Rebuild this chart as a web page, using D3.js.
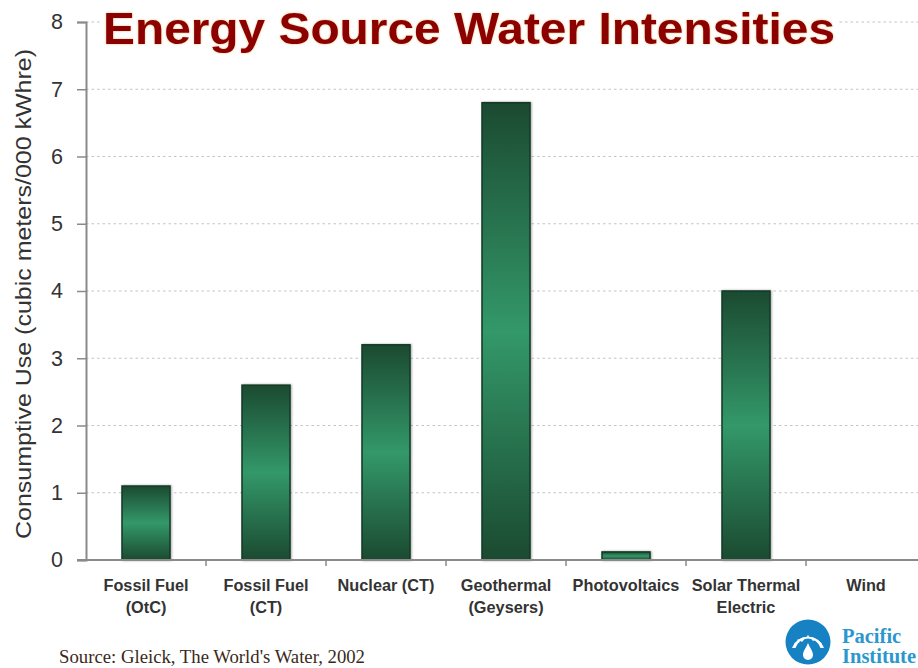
<!DOCTYPE html>
<html><head><meta charset="utf-8">
<script src="https://cdn.jsdelivr.net/npm/d3@7"></script>
<style>html,body{margin:0;padding:0;background:#fff;overflow:hidden}</style>
</head><body>
<svg id="c" width="918" height="668"></svg>
<script>
const categories = [["Fossil Fuel","(OtC)"],["Fossil Fuel","(CT)"],["Nuclear (CT)"],["Geothermal","(Geysers)"],["Photovoltaics"],["Solar Thermal","Electric"],["Wind"]];
const values = [1.1, 2.6, 3.2, 6.8, 0.12, 4.0, 0];
const yTicks = [0,1,2,3,4,5,6,7,8];
const titleText = "Energy Source Water Intensities";
const yLabel = "Consumptive Use (cubic meters/000 kWhre)";
const sourceText = "Source: Gleick, The World's Water, 2002";

(function(){
const svg = d3.select("#c");
const mL = 86, mR = 926, mT = 22, mB = 560;
const keys = categories.map((c,i)=>i);
const x = d3.scaleBand().domain(keys).range([mL,mR]).paddingInner(0.6).paddingOuter(0.3);
const y = d3.scaleLinear().domain([0,8]).range([mB,mT]);

const defs = svg.append("defs");
const g = defs.append("linearGradient").attr("id","barg").attr("x1",0).attr("y1",0).attr("x2",0).attr("y2",1);
g.append("stop").attr("offset","0%").attr("stop-color","#1b4a31");
g.append("stop").attr("offset","50%").attr("stop-color","#33986a");
g.append("stop").attr("offset","100%").attr("stop-color","#1b4a31");

// grid
svg.append("g").selectAll("line").data(yTicks.filter(d=>d>0)).join("line")
  .attr("x1",mL).attr("x2",918).attr("y1",d=>y(d)).attr("y2",d=>y(d))
  .attr("stroke","#c4c4c4").attr("stroke-width",1.2).attr("stroke-dasharray","2.5,3");

// bars
svg.append("g").selectAll("rect").data(values.map((v,i)=>({v,i})).filter(d=>d.v>0)).join("rect")
  .attr("x",d=>x(d.i)).attr("width",x.bandwidth())
  .attr("y",d=>y(d.v)).attr("height",d=>y(0)-y(d.v))
  .attr("fill","url(#barg)").attr("stroke","#123a24").attr("stroke-width",1.5)
  .style("filter","drop-shadow(1px 0px 1px rgba(0,0,0,0.35))");

// y axis
const ya = svg.append("g").attr("transform",`translate(${mL},0)`)
  .call(d3.axisLeft(y).tickValues(yTicks).tickSize(9).tickPadding(14).tickFormat(d3.format("d")));
ya.select(".domain").attr("stroke","#8a8a8a").attr("stroke-width",2);
ya.selectAll(".tick line").attr("stroke","#8a8a8a").attr("stroke-width",1.5);
ya.selectAll("text").attr("font-family","Arial, Liberation Sans, sans-serif").attr("font-size",21.5).attr("fill","#333");

// x axis
const xa = svg.append("g").attr("transform",`translate(0,${mB})`);
xa.append("line").attr("x1",mL-9).attr("x2",918).attr("y1",0).attr("y2",0).attr("stroke","#8a8a8a").attr("stroke-width",2);
const step = x.step();
xa.selectAll("line.t").data(keys.slice(1)).join("line").attr("class","t")
  .attr("x1",d=>x(d)-x.paddingInner()*step/2).attr("x2",d=>x(d)-x.paddingInner()*step/2)
  .attr("y1",0).attr("y2",6).attr("stroke","#8a8a8a").attr("stroke-width",1.5);
const lbl = xa.selectAll("text").data(categories.map((c,i)=>({c,i}))).join("text")
  .attr("x",d=>x(d.i)+x.bandwidth()/2).attr("y",31)
  .attr("text-anchor","middle").attr("font-family","Arial, Liberation Sans, sans-serif")
  .attr("font-weight","bold").attr("font-size",16.3).attr("fill","#333");
lbl.each(function(d){
  d3.select(this).selectAll("tspan").data(d.c).join("tspan")
    .attr("x",x(d.i)+x.bandwidth()/2).attr("dy",(t,j)=>j===0?0:22).text(t=>t);
});

// y label
svg.append("text").attr("transform","translate(31,294) rotate(-90)")
  .attr("text-anchor","middle").attr("font-family","Arial, Liberation Sans, sans-serif")
  .attr("font-size",22).attr("fill","#333")
  .attr("textLength",490).attr("lengthAdjust","spacingAndGlyphs").text(yLabel);

// title
svg.append("rect").attr("x",100).attr("y",8).attr("width",738).attr("height",44).attr("fill","#fff");
svg.append("text").attr("x",103).attr("y",44)
  .attr("font-family","Arial, Liberation Sans, sans-serif").attr("font-weight","bold")
  .attr("font-size",44).attr("fill","#8b0000")
  .attr("textLength",732).attr("lengthAdjust","spacingAndGlyphs")
  .style("filter","drop-shadow(0px 0px 1px rgba(230,160,60,0.7))")
  .text(titleText);

// source
svg.append("text").attr("x",59).attr("y",663).attr("font-family","Times New Roman, Liberation Serif, serif")
  .attr("font-size",18).attr("fill","#3a2a1a")
  .attr("textLength",306).attr("lengthAdjust","spacingAndGlyphs").text(sourceText);

// logo
const lg = svg.append("g").attr("transform","translate(808,642)");
lg.append("circle").attr("r",22.5).attr("fill","#1782c3");
lg.append("path").attr("d","M-16,6 A17,17 0 0 1 16,6 L9,-3 L5,-1 L0,-7 L-6,0 L-10,-3 Z").attr("fill","#fff");
lg.append("path").attr("d","M-16,6 A17,17 0 0 1 16,6 L12.5,6 A13,13 0 0 0 -12.5,6 Z").attr("fill","#fff");
lg.append("path").attr("d","M0,1 C2,6 5,9 5,13 A5,5 0 0 1 -5,13 C-5,9 -2,6 0,1 Z").attr("fill","#fff");
svg.append("text").attr("x",842).attr("y",643).attr("font-family","Times New Roman, Liberation Serif, serif").attr("font-weight","bold")
  .attr("font-size",20.5).attr("fill","#2a97cf").text("Pacific");
svg.append("text").attr("x",842).attr("y",663).attr("font-family","Times New Roman, Liberation Serif, serif").attr("font-weight","bold")
  .attr("font-size",20.5).attr("fill","#2a97cf").text("Institute");
})();
</script>
</body></html>
